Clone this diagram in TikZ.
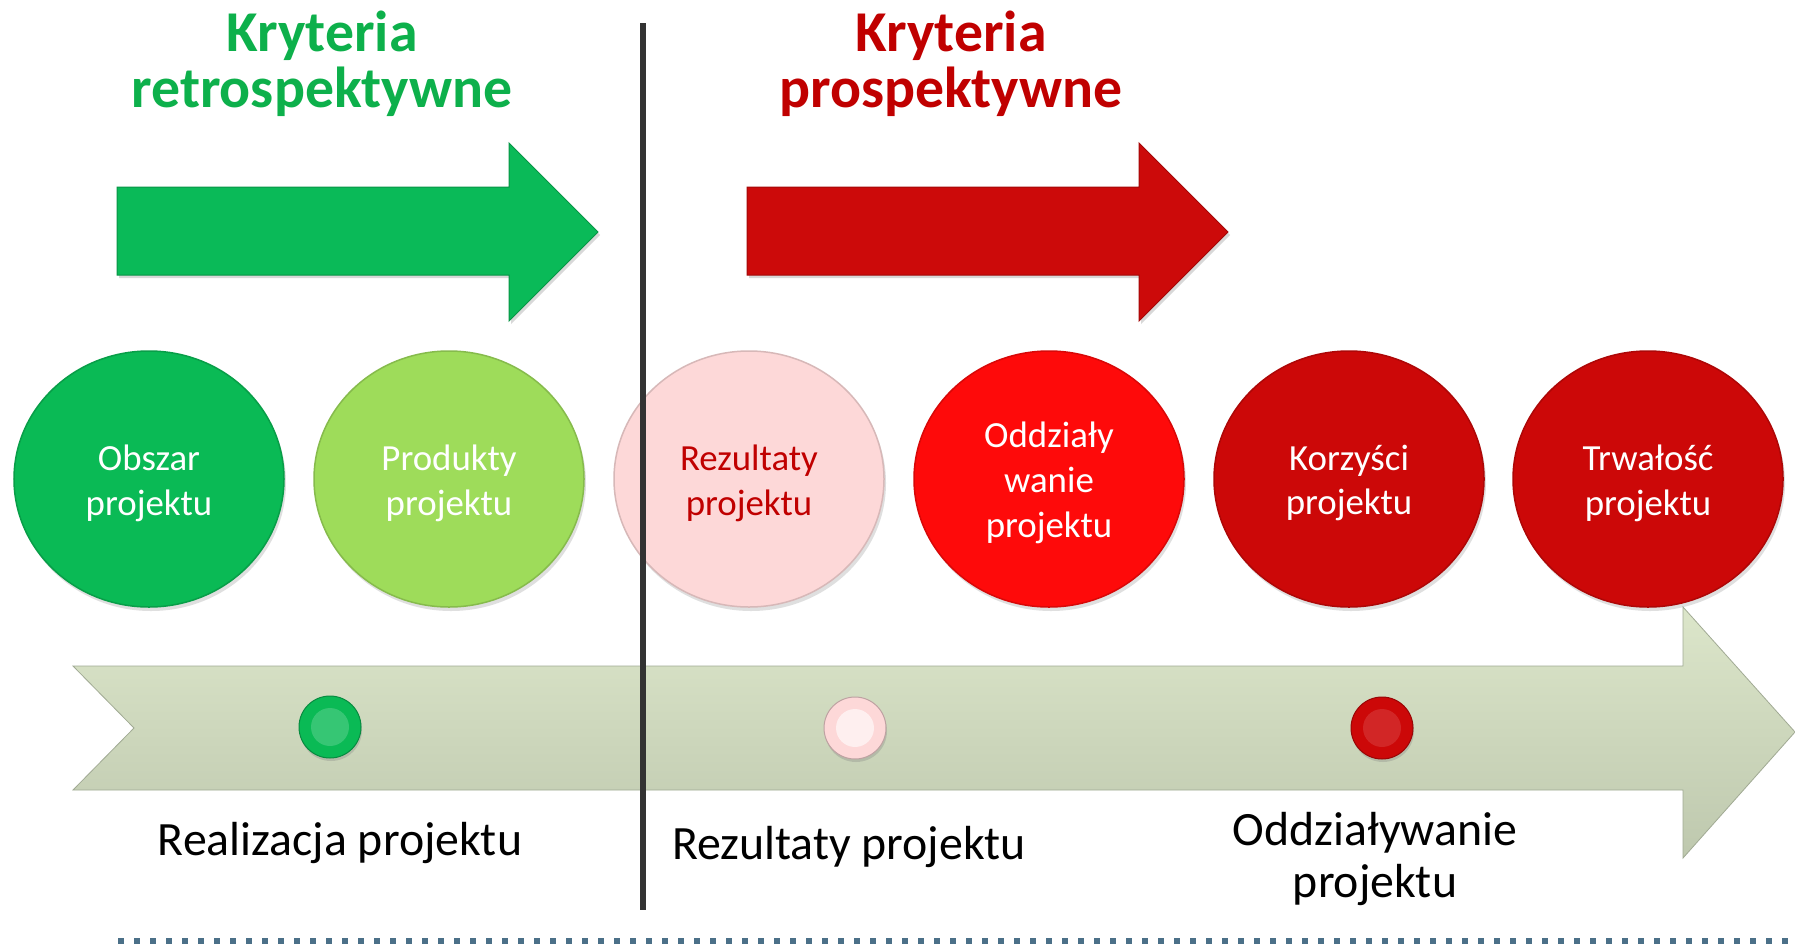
\documentclass[tikz,border=0pt]{standalone}
\usepackage{fontspec}
\setmainfont{Carlito}
\usetikzlibrary{shapes.geometric,shadows}
\definecolor{titlegreen}{HTML}{0DB04B}
\definecolor{titlered}{HTML}{C00000}
\definecolor{arrgreen}{HTML}{0ABA58}
\definecolor{arrred}{HTML}{CC0A0A}
\definecolor{cobszar}{HTML}{0ABA55}
\definecolor{cprod}{HTML}{9EDC5A}
\definecolor{cpink}{HTML}{FDD8D8}
\definecolor{cbright}{HTML}{FE0A0A}
\definecolor{cdark}{HTML}{CC0808}
\definecolor{sageT}{HTML}{DCE6CA}
\definecolor{sageB}{HTML}{BEC8AE}
\definecolor{dotline}{HTML}{4B7088}
\begin{document}
\begin{tikzpicture}[x=1bp,y=-1bp,
  bubble/.style={ellipse, minimum width=270bp, minimum height=256bp, inner sep=0pt,
    fill=#1, draw=#1!85!black, line width=1.5bp,
    drop shadow={opacity=0.25, shadow xshift=2bp, shadow yshift=-4bp}},
  btext/.style={align=center, font=\fontsize{37}{45}\selectfont, inner sep=0pt},
  pin/.style={circle, minimum size=62bp, inner sep=0pt, fill=#1, draw=#1!75!black, line width=1bp,
    drop shadow={opacity=0.3, shadow xshift=1bp, shadow yshift=-3bp}},
  hilite/.style={circle, minimum size=38bp, inner sep=0pt, fill=#1},
  title/.style={align=center, font=\fontsize{58}{56}\selectfont\bfseries, text=#1},
  label/.style={align=center, font=\fontsize{48}{53}\selectfont, text=black},
  bigarrow/.style={fill=#1, draw=#1!80!black, line width=1bp,
    drop shadow={opacity=0.3, shadow xshift=2bp, shadow yshift=-3bp}}]
\useasboundingbox (0,0) rectangle (1795,944);
\fill[white] (0,0) rectangle (1795,944);

% titles
\node[title=titlegreen] (tretro) at (322,64) {Kryteria\\retrospektywne};
\node[title=titlered] (tprosp) at (951,64) {Kryteria\\prospektywne};

% top arrows
\path[bigarrow=arrgreen] (117,187) -- (509,187) -- (509,143) -- (598,232) -- (509,321) -- (509,275) -- (117,275) -- cycle;
\path[bigarrow=arrred] (747,187) -- (1139,187) -- (1139,143) -- (1228,232) -- (1139,321) -- (1139,275) -- (747,275) -- cycle;

% timeline arrow
\path[top color=sageT, bottom color=sageB, draw=sageB!85!black, line width=0.8bp]
  (73,666) -- (1683,666) -- (1683,607) -- (1795,732) -- (1683,858) -- (1683,790) -- (73,790) -- (134,728) -- cycle;

% circles
\node[bubble=cobszar] (obszar) at (149,479) {};
\node[bubble=cprod] (produkty) at (449,479) {};
\node[bubble=cpink] (rezultaty) at (749,479) {};
\node[bubble=cbright] (oddz) at (1049,479) {};
\node[bubble=cdark] (korzysci) at (1349,479) {};
\node[bubble=cdark] (trwalosc) at (1648,479) {};
\node[btext, text=white] (tobszar) at ([yshift=-4bp]obszar.center) {Obszar\\projektu};
\node[btext, text=white] (tprod) at ([yshift=-4bp]produkty.center) {Produkty\\projektu};
\node[btext, text=titlered] (trez) at ([yshift=-4bp]rezultaty.center) {Rezultaty\\projektu};
\node[btext, text=white] (toddz) at ([yshift=-4bp]oddz.center) {Oddziały\\wanie\\projektu};
\node[btext, text=white] (tkorz) at ([yshift=-4bp]korzysci.center) {Korzyści\\projektu};
\node[btext, text=white] (ttrw) at ([yshift=-4bp]trwalosc.center) {Trwałość\\projektu};

% pins
\node[pin=cobszar] (pgreen) at (330,727) {};
\node[hilite=cobszar!82!white] (hgreen) at (pgreen) {};
\node[pin=cpink] (ppink) at (855,728) {};
\node[hilite=cpink!40!white] (hpink) at (ppink) {};
\node[pin=cdark] (pred) at (1382,728) {};
\node[hilite=cdark!88!white] (hred) at (pred) {};

% labels
\node[label] (lreal) at (340,843) {Realizacja projektu};
\node[label] (lrez) at (849,847) {Rezultaty projektu};
\node[label] (lodd) at (1375,859) {Oddziaływanie\\projektu};

% divider
\coordinate (dtop) at (643,23);
\coordinate (dbot) at (643,910);
\draw[line width=6bp, black!80] (dtop) -- (dbot);

% dotted baseline
\coordinate (bl) at (118,941);
\coordinate (br) at (1795,941);
\draw[dotline, line width=6bp, dash pattern=on 6bp off 10bp] (bl) -- (br);
\end{tikzpicture}
\end{document}
